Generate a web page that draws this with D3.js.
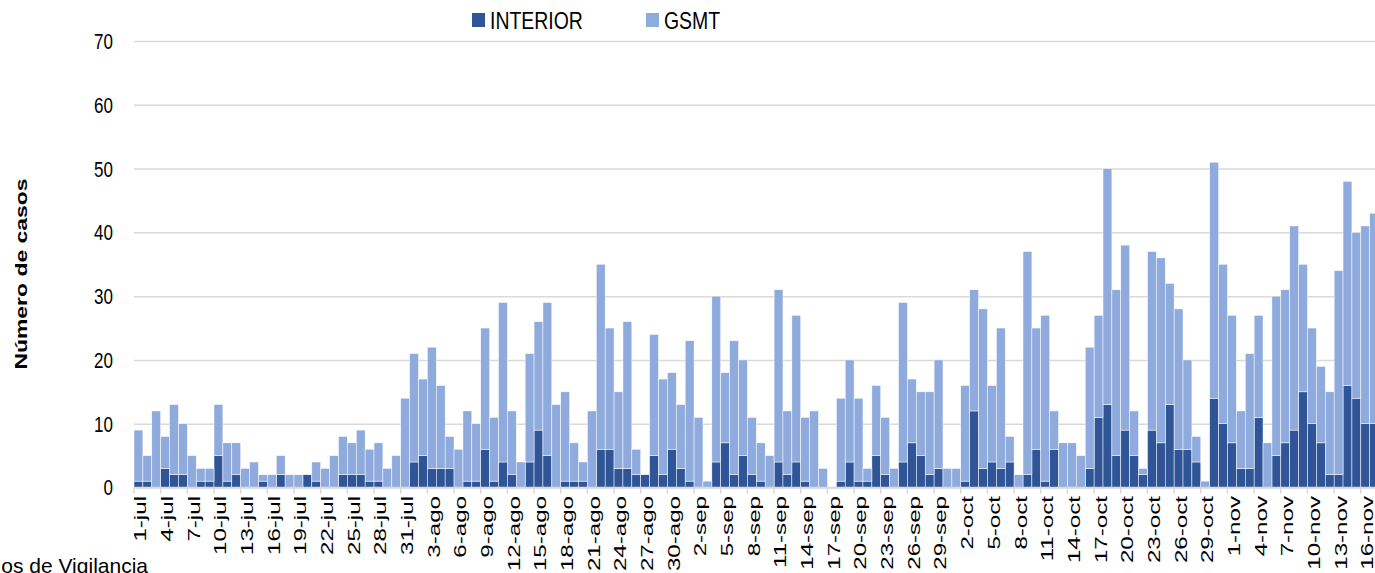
<!DOCTYPE html>
<html>
<head>
<meta charset="utf-8">
<script src="https://cdn.jsdelivr.net/npm/d3@7"></script>
<style>
  body { margin: 0; background: #fff; }
  text { font-family: "Liberation Sans", Arial, sans-serif; fill: #000; }
</style>
</head>
<body>
<div id="chart"></div>
<script>
// months shown on the category axis (name, days used)
var months = [["jul", 31], ["ago", 31], ["sep", 30], ["oct", 31], ["nov", 17]];

// cases per day, 1-jul .. 17-nov
var interior = [1,1,0,3,2,2,0,1,1,5,1,2,0,0,1,0,2,0,0,2,1,0,0,2,2,2,1,1,0,0,
  0,4,5,3,3,3,0,1,1,6,1,4,2,0,4,9,5,0,1,1,1,0,6,6,3,3,2,2,5,2,
  6,3,1,0,0,4,7,2,5,2,1,0,4,2,4,1,0,0,0,1,4,1,1,5,2,0,4,7,5,2,
  3,0,0,1,12,3,4,3,4,0,2,6,1,6,0,0,0,3,11,13,5,9,5,2,9,7,13,6,6,4,
  0,14,10,7,3,3,11,0,5,7,9,15,10,7,2,2,16,14,10,10];
var gsmt = [8,4,12,5,11,8,5,2,2,8,6,5,3,4,1,2,3,2,2,0,3,3,5,6,5,7,5,6,3,5,
  14,17,12,19,13,5,6,11,9,19,10,25,10,4,17,17,24,13,14,6,3,12,29,19,12,23,4,0,19,15,
  12,10,22,11,1,26,11,21,15,9,6,5,27,10,23,10,12,3,0,13,16,13,2,11,9,3,25,10,10,13,
  17,3,3,15,19,25,12,22,4,2,35,19,26,6,7,7,5,19,16,37,26,29,7,1,28,29,19,22,14,4,
  1,37,25,20,9,18,16,7,25,24,32,20,15,12,13,32,32,26,31,33];

var yTicks = [0, 10, 20, 30, 40, 50, 60, 70];

var days = [];
months.forEach(function (m) {
  for (var d = 1; d <= m[1]; d++) days.push(d + "-" + m[0]);
});

var data = days.map(function (d, i) {
  return { day: d, INTERIOR: interior[i], GSMT: gsmt[i] };
});

var svgWidth = 1375;
var svgHeight = 573;
var plotLeft = 134;
var dayWidth = 8.89;

var svg = d3.select("#chart")
  .append("svg")
  .attr("width", svgWidth)
  .attr("height", svgHeight);

var x = d3.scaleBand()
  .domain(days)
  .range([plotLeft, plotLeft + days.length * dayWidth])
  .padding(0);

var y = d3.scaleLinear()
  .domain([0, 70])
  .range([487.5, 41]);

var colors = { INTERIOR: "#2f5597", GSMT: "#8faadc" };

// gridlines
svg.append("g")
  .attr("transform", "translate(" + plotLeft + ",0)")
  .call(d3.axisLeft(y).tickValues(yTicks).tickSize(-(svgWidth - plotLeft)).tickFormat(""))
  .call(function (g) { g.select(".domain").remove(); })
  .selectAll("line")
  .attr("stroke", "#d9d9d9")
  .attr("stroke-width", 1.5);

// y labels (text is a bit taller than wide in the picture)
svg.append("g").selectAll("text")
  .data(yTicks)
  .enter()
  .append("text")
  .attr("transform", function (d) { return "translate(113," + y(d) + ") scale(1,1.3)"; })
  .attr("text-anchor", "end")
  .attr("dy", "0.36em")
  .attr("font-size", 17)
  .text(function (d) { return d; });

// stacked bars
var series = d3.stack().keys(["INTERIOR", "GSMT"])(data);

svg.append("g").selectAll("g")
  .data(series)
  .enter()
  .append("g")
  .attr("fill", function (s) { return colors[s.key]; })
  .selectAll("rect")
  .data(function (s) { return s; })
  .enter()
  .append("rect")
  .attr("x", function (d) { return x(d.data.day); })
  .attr("y", function (d) { return y(d[1]); })
  .attr("width", x.bandwidth())
  .attr("height", function (d) { return y(d[0]) - y(d[1]); })
  .attr("stroke", "#fff")
  .attr("stroke-width", 0.5);

// x axis line and tick marks every 3 days
var labelDays = days.filter(function (d, i) { return i % 3 === 0; });

svg.append("line")
  .attr("x1", plotLeft).attr("x2", svgWidth)
  .attr("y1", y(0)).attr("y2", y(0))
  .attr("stroke", "#d9d9d9").attr("stroke-width", 1.5);

svg.append("g").selectAll("line")
  .data(labelDays)
  .enter()
  .append("line")
  .attr("x1", function (d) { return x(d); })
  .attr("x2", function (d) { return x(d); })
  .attr("y1", y(0))
  .attr("y2", y(0) + 6)
  .attr("stroke", "#d9d9d9")
  .attr("stroke-width", 1.5);

svg.append("g").selectAll("text")
  .data(labelDays)
  .enter()
  .append("text")
  .attr("transform", function (d) {
    return "translate(" + (x(d) + x.bandwidth() / 2 + 2) + ",496) rotate(-90) scale(1.42,1)";
  })
  .attr("text-anchor", "end")
  .attr("dy", "0.35em")
  .attr("font-size", 17)
  .text(function (d) { return d; });

// y title
svg.append("text")
  .attr("transform", "translate(27,274) rotate(-90) scale(1.35,1)")
  .attr("text-anchor", "middle")
  .attr("font-size", 17)
  .attr("font-weight", "bold")
  .text("Número de casos");

// legend
var legend = svg.append("g");
var legendItems = [["INTERIOR", 472], ["GSMT", 646]];
legendItems.forEach(function (it) {
  legend.append("rect")
    .attr("x", it[1]).attr("y", 13)
    .attr("width", 13).attr("height", 14)
    .attr("fill", colors[it[0]]);
  legend.append("text")
    .attr("transform", "translate(" + (it[1] + 18) + ",20) scale(1.08,1.35)")
    .attr("dy", "0.36em")
    .attr("font-size", 18)
    .text(it[0]);
});

// source note, cut at the left edge in the picture
svg.append("text")
  .attr("x", 148)
  .attr("y", 573)
  .attr("text-anchor", "end")
  .attr("font-size", 21)
  .text("os de Vigilancia");
</script>
</body>
</html>
